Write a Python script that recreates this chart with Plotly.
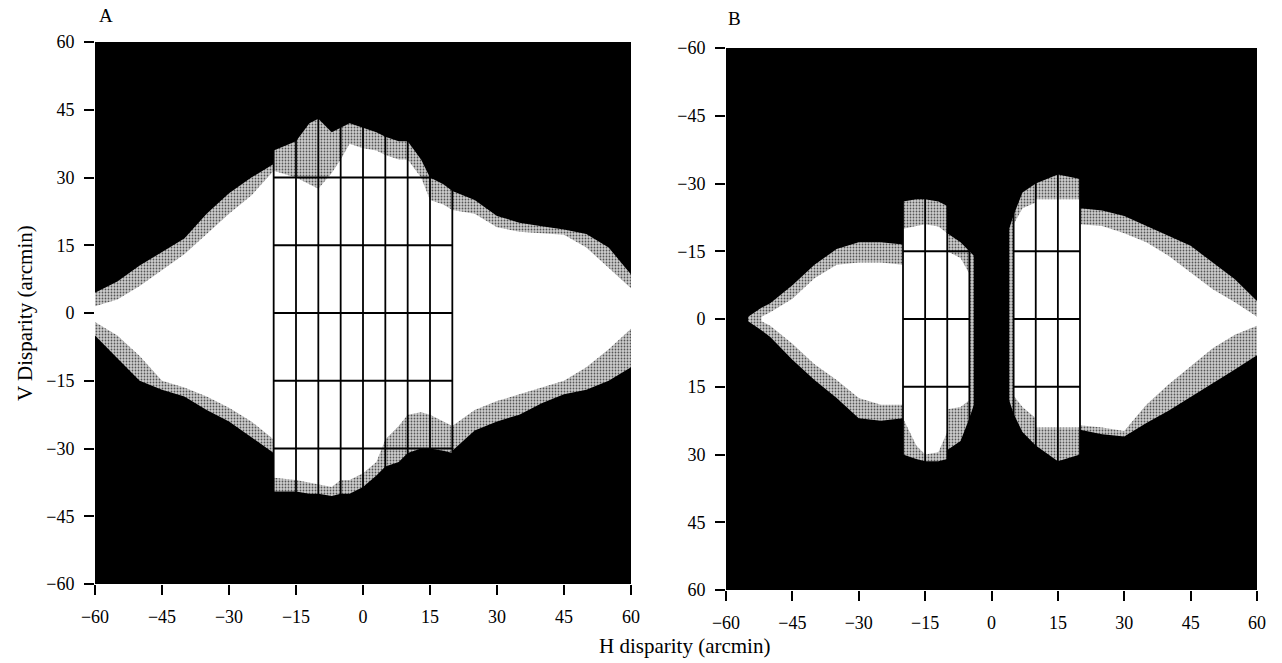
import plotly.graph_objects as go

# ---------------- Panel A data (x: H disparity, y: V disparity, arcmin) ----------------
A_in_x = [-60, -55, -50, -45, -40, -35, -30, -25, -20,
          -20, -15, -10, -7, -5, -3, 0, 3, 5, 8, 10, 13, 15, 18, 20,
          25, 30, 35, 40, 45, 50, 55, 60]
A_in_top = [1.5, 3, 6, 9.5, 13, 17.5, 22, 26, 31.5,
            31.5, 30, 27.5, 31, 34, 37.5, 36.5, 36, 35, 34, 34, 30, 25, 24, 22.8,
            22, 19, 18, 17.7, 17.3, 14.5, 10, 5.5]
A_in_bot = [-2, -5, -9.5, -15, -16.5, -18.5, -21, -24, -28,
            -36.5, -37, -38, -38.5, -37, -37, -35.5, -33, -28, -25, -22.5, -22, -22.5, -24, -25,
            -21.5, -19.5, -18, -16.5, -15, -12, -8, -3.5]

A_out_x = [-60, -55, -50, -45, -40, -35, -30, -25, -20,
           -20, -15, -12, -10, -7, -5, -3, 0, 3, 5, 8, 10, 13, 15, 18, 20,
           20, 25, 30, 35, 40, 45, 50, 55, 60]
A_out_top = [4.5, 7, 10.5, 13.5, 16.5, 22, 26.5, 30, 33,
             36, 38, 42, 43, 40, 41, 42, 41, 40, 39, 38, 38, 34, 30, 28.5, 27,
             27, 25, 21.5, 20, 19.2, 18.5, 17.5, 14.5, 8.5]
A_out_bot = [-5, -10, -15, -17, -18.5, -21.5, -24, -27.5, -31,
             -39.5, -39.5, -40, -40, -40.5, -40, -40, -38.5, -36, -34, -33, -31, -30, -30, -30.5, -31,
             -30.5, -26, -24, -22.5, -20, -18, -17, -15, -12]

A_grid_x = [-20, -15, -10, -5, 0, 5, 10, 15, 20]
A_grid_y = [-30, -15, 0, 15, 30]

# ---------------- Panel B data (y axis reversed) ----------------
BL_in_x = [-52, -50, -45, -40, -35, -30, -25, -20, -20, -17, -15, -12, -10, -10, -7, -5]
BL_in_top = [-0.5, -1.5, -4.5, -9, -12, -12.5, -12.5, -12, -20, -20.5, -21, -20.5, -19, -15, -13.5, -10]
BL_in_bot = [0.5, 1.5, 5.5, 10, 13.5, 17.5, 19, 19, 22, 28, 30, 29.5, 25, 20, 19.5, 18]

BL_out_x = [-55, -52, -50, -45, -40, -35, -30, -25, -20, -20, -17, -15, -12, -10, -10, -7, -5, -4]
BL_out_top = [-0.5, -2.5, -3.5, -7.5, -12, -15.5, -17, -17, -16.5, -26, -26.5, -26.5, -26, -25, -19, -17, -15, -14]
BL_out_bot = [0.5, 2.5, 4, 9, 13.5, 17.5, 22, 22.5, 22, 30, 31, 31.5, 31.5, 31, 29, 27, 22, 19]

BR_in_x = [5, 7, 10, 10, 15, 20, 20, 25, 30, 35, 40, 45, 50, 55, 60]
BR_in_top = [-21, -24.5, -25.8, -26.5, -26.5, -26.5, -21, -20.6, -19, -17, -14, -10.3, -6.6, -3.7, -0.5]
BR_in_bot = [17, 19.5, 22, 24, 24, 24, 23.5, 24, 24.8, 19, 14.5, 10.5, 6.5, 3.5, 1.5]

BR_out_x = [4, 5, 7, 10, 15, 20, 20, 25, 30, 35, 40, 45, 50, 55, 60]
BR_out_top = [-20, -23, -28, -30, -32, -31, -24.5, -24, -22.8, -20.6, -18.4, -16.2, -12.5, -8.8, -4]
BR_out_bot = [18, 21, 25, 28, 31.5, 30, 24.5, 25.5, 26, 23, 20.3, 17.3, 14.2, 11.2, 8]

B_grid_x_left = [-20, -15, -10, -5]
B_grid_x_right = [5, 10, 15, 20]
B_grid_y = [-15, 0, 15]

tick_vals = [-60, -45, -30, -15, 0, 15, 30, 45, 60]

FONT = "Liberation Serif"
GRAY_BG = "#cdcdcd"

fig = go.Figure()


def region(xs, top, bot, color, xa, ya, pattern=False):
    px = list(xs) + list(xs)[::-1]
    py = list(top) + list(bot)[::-1]
    kw = dict(x=px, y=py, mode="lines", fill="toself", fillcolor=color,
              line=dict(width=0, color=color), hoverinfo="skip", showlegend=False,
              xaxis=xa, yaxis=ya)
    if pattern:
        kw["fillpattern"] = dict(shape=".", bgcolor=color, fgcolor="#555555",
                                 size=3, solidity=0.28)
    fig.add_trace(go.Scatter(**kw))


def grid(xs_v, ys_h, x0, x1, xa, ya):
    gx, gy = [], []
    for xv in xs_v:
        gx += [xv, xv, None]
        gy += [-60, 60, None]
    for yv in ys_h:
        gx += [x0, x1, None]
        gy += [yv, yv, None]
    fig.add_trace(go.Scatter(x=gx, y=gy, mode="lines",
                             line=dict(color="black", width=1.8),
                             hoverinfo="skip", showlegend=False,
                             xaxis=xa, yaxis=ya))


# Panel A
region(A_out_x, A_out_top, A_out_bot, GRAY_BG, "x", "y", pattern=True)
region(A_in_x, A_in_top, A_in_bot, "white", "x", "y")
grid(A_grid_x, A_grid_y, A_grid_x[0], A_grid_x[-1], "x", "y")

# Panel B
region(BL_out_x, BL_out_top, BL_out_bot, GRAY_BG, "x2", "y2", pattern=True)
region(BR_out_x, BR_out_top, BR_out_bot, GRAY_BG, "x2", "y2", pattern=True)
region(BL_in_x, BL_in_top, BL_in_bot, "white", "x2", "y2")
region(BR_in_x, BR_in_top, BR_in_bot, "white", "x2", "y2")
grid(B_grid_x_left, B_grid_y, B_grid_x_left[0], B_grid_x_left[-1], "x2", "y2")
grid(B_grid_x_right, B_grid_y, B_grid_x_right[0], B_grid_x_right[-1], "x2", "y2")

W, H = 1282, 663

axis_common = dict(
    tickvals=tick_vals, ticks="outside", ticklen=10, tickwidth=2, tickcolor="black",
    ticklabelstandoff=6,
    showgrid=False, zeroline=False, showline=False, automargin=False,
    tickfont=dict(family=FONT, size=18, color="black"),
)

fig.update_layout(
    template="none",
    width=W, height=H,
    margin=dict(l=0, r=0, t=0, b=0, pad=0),
    paper_bgcolor="white",
    plot_bgcolor="black",
    xaxis=dict(domain=[95 / W, 631 / W], range=[-60, 60], anchor="y", **axis_common),
    yaxis=dict(domain=[1 - 584 / H, 1 - 42 / H], range=[-60, 60], anchor="x", **axis_common),
    xaxis2=dict(domain=[726 / W, 1257 / W], range=[-60, 60], anchor="y2", **axis_common),
    yaxis2=dict(domain=[1 - 590 / H, 1 - 48 / H], range=[60, -60], anchor="x2", **axis_common),
    annotations=[
        dict(text="A", x=106 / W, y=1 - 15 / H, xref="paper", yref="paper",
             xanchor="center", yanchor="middle",
             showarrow=False, font=dict(family=FONT, size=19, color="black")),
        dict(text="B", x=734 / W, y=1 - 18 / H, xref="paper", yref="paper",
             xanchor="center", yanchor="middle",
             showarrow=False, font=dict(family=FONT, size=19, color="black")),
        dict(text="V Disparity (arcmin)", x=25 / W, y=1 - 313 / H, xref="paper", yref="paper",
             xanchor="center", yanchor="middle",
             textangle=-90, showarrow=False, font=dict(family=FONT, size=21, color="black")),
        dict(text="H disparity (arcmin)", x=684 / W, y=1 - 646 / H, xref="paper", yref="paper",
             xanchor="center", yanchor="middle",
             showarrow=False, font=dict(family=FONT, size=21, color="black")),
    ],
)

fig.write_html(
    "out.html",
    config={"displayModeBar": False},
    post_script="document.body.style.margin='0';document.body.style.overflow='hidden';",
)
